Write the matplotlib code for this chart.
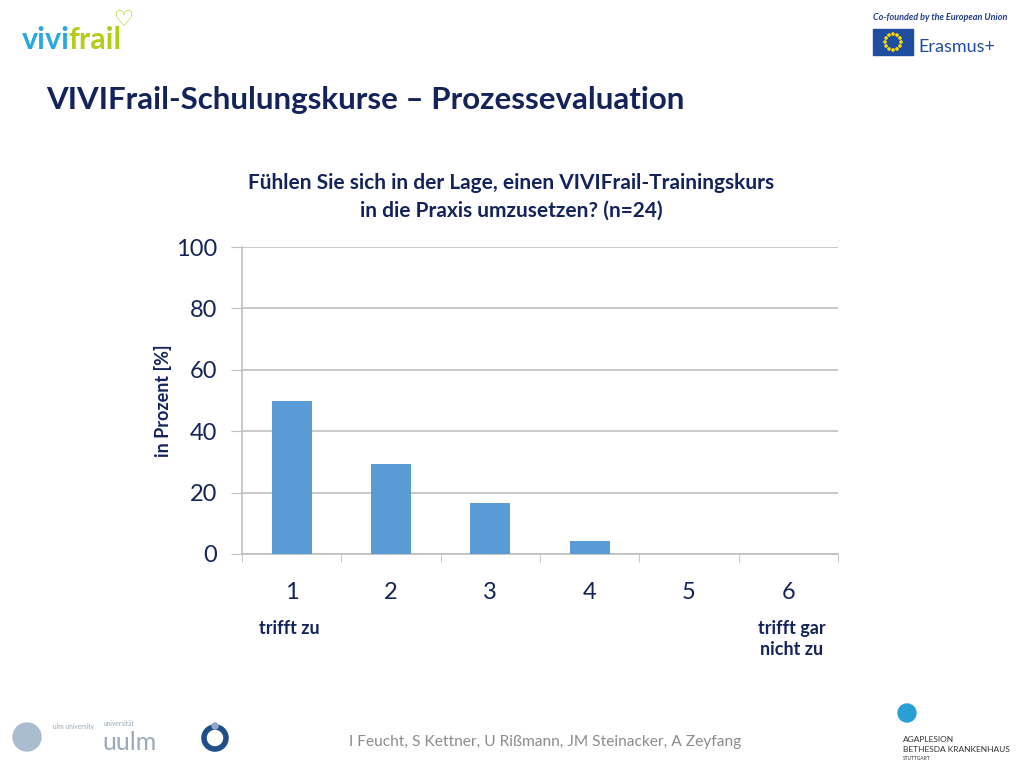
#!/usr/bin/env python3
"""VIVIFrail slide: process evaluation bar chart."""

import numpy as np
import matplotlib
matplotlib.use('Agg')
import matplotlib.pyplot as plt
from matplotlib.patches import Rectangle, Ellipse

plt.rcParams['font.family'] = ['Lato', 'DejaVu Sans']

# data
categories = ['1', '2', '3', '4', '5', '6']
percent = [50.0, 29.2, 16.7, 4.2, 0.0, 0.0]
y_ticks = [0, 20, 40, 60, 80, 100]

navy = '#14245A'
bar_blue = '#5B9BD5'
grid_gray = '#BFBFBF'

W, H = 1024, 768
fig = plt.figure(figsize=(W / 100, H / 100), dpi=100)
fig.patch.set_facecolor('white')


def px(x, y):
    # pixel coords (top-left origin) -> figure fraction
    return x / W, 1 - y / H


def dot(x, y, r, **kw):
    fig.patches.append(Ellipse(px(x, y), 2 * r / W, 2 * r / H,
                               transform=fig.transFigure, **kw))


# ---- chart ----
ax = fig.add_axes([242 / W, 1 - 554 / H, 596 / W, 307 / H])
x = np.arange(len(categories))
ax.bar(x, percent, width=0.4, color=bar_blue, zorder=3)
ax.set_xlim(-0.5, len(categories) - 0.5)
ax.set_ylim(0, 100)
ax.set_yticks(y_ticks)
ax.set_yticklabels([str(v) for v in y_ticks], fontsize=17, color=navy)
ax.set_xticks(x)
ax.set_xticklabels(categories, fontsize=17, color=navy)
ax.set_xticks(np.arange(-0.5, len(categories)), minor=True)
ax.tick_params(axis='x', which='major', length=0, pad=20)
ax.tick_params(axis='x', which='minor', length=6, color=grid_gray, direction='out')
ax.tick_params(axis='y', length=8, color=grid_gray, pad=10)
ax.grid(True, axis='y', color=grid_gray, linewidth=1.2, zorder=0)
for s in ['top', 'right']:
    ax.spines[s].set_visible(False)
for s in ['left', 'bottom']:
    ax.spines[s].set_color(grid_gray)
    ax.spines[s].set_linewidth(1.2)
ax.set_ylabel('in Prozent [%]', fontsize=13, fontweight='bold', color=navy, labelpad=3)

fig.text(*px(511, 197),
         'Fühlen Sie sich in der Lage, einen VIVIFrail-Trainingskurs\nin die Praxis umzusetzen? (n=24)',
         ha='center', va='center', fontsize=15, fontweight='bold', color=navy,
         linespacing=1.45)

fig.text(*px(289, 628), 'trifft zu', ha='center', va='center',
         fontsize=13, fontweight='bold', color=navy)
fig.text(*px(792, 639), 'trifft gar\nnicht zu', ha='center', va='center',
         fontsize=13, fontweight='bold', color=navy, linespacing=1.35)

# ---- slide title ----
fig.text(*px(46, 100), 'VIVIFrail-Schulungskurse – Prozessevaluation',
         ha='left', va='center', fontsize=22.5, fontweight='bold', color=navy)

# ---- footer ----
fig.text(*px(545, 742),
         'I Feucht, S Kettner, U Rißmann, JM Steinacker, A Zeyfang',
         ha='center', va='center', fontsize=11.2, color='#8C8C8C')

# ---- logos (rough) ----
fig.text(*px(22, 40), 'vivi', ha='left', va='center',
         fontsize=22, fontweight='bold', color='#29A8E0')
fig.text(*px(68, 40), 'frail', ha='left', va='center',
         fontsize=22, fontweight='bold', color='#B5CC18')
fig.text(*px(124, 20), '♡', ha='center', va='center', fontsize=16,
         fontweight='bold', color='#B5CC18', family='DejaVu Sans')

fig.text(*px(873, 18), 'Co-founded by the European Union',
         ha='left', va='center', fontsize=6.5, fontweight='bold',
         style='italic', color='#1F3C88')
fig.patches.append(Rectangle(px(873, 55), 40 / W, 26 / H,
                             transform=fig.transFigure, color='#1F4DA0'))
for a in np.linspace(0, 2 * np.pi, 12, endpoint=False):
    dot(893 + 8 * np.cos(a), 42 + 8 * np.sin(a), 1.1, color='#FFDD00')
fig.text(*px(918, 47), 'Erasmus+', ha='left', va='center',
         fontsize=13, color='#1F4DA0')

dot(27, 737, 14, color='#A9BCD0')
fig.text(*px(53, 727), 'ulm university', ha='left', va='center',
         fontsize=4.8, color='#9AAABB')
fig.text(*px(104, 724), 'universität', ha='left', va='center',
         fontsize=4.8, color='#9AAABB')
fig.text(*px(102, 742), 'uulm', ha='left', va='center',
         fontsize=18, color='#9AAABB')
dot(215, 738, 11, fill=False, lw=4, color='#1F4E8A')
dot(215, 726, 3, color='#8FA8C8')

dot(907, 713, 9, color='#2A9FD6')
fig.text(*px(903, 740), 'AGAPLESION', ha='left', va='center',
         fontsize=6, color='#333333')
fig.text(*px(903, 750), 'BETHESDA KRANKENHAUS', ha='left', va='center',
         fontsize=6, color='#333333')
fig.text(*px(903, 759), 'STUTTGART', ha='left', va='center',
         fontsize=3.5, color='#333333')

fig.savefig('out.png', dpi=100, facecolor='white')
